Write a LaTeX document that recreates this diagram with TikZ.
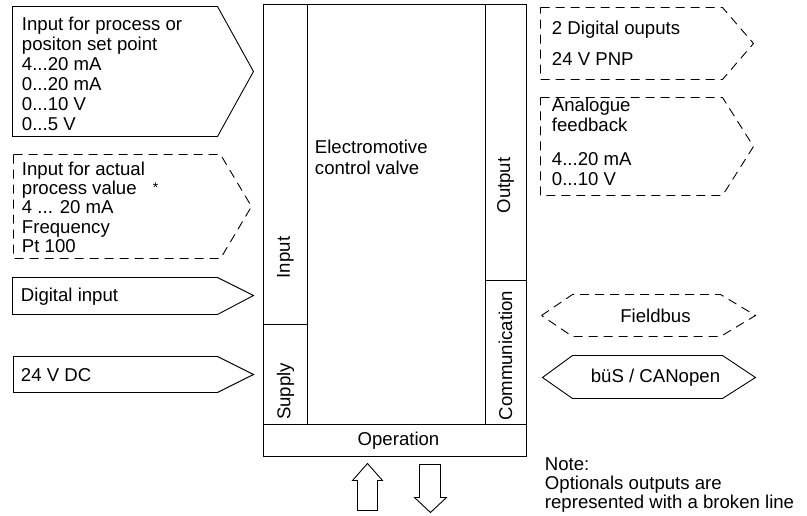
\documentclass[tikz,border=0pt]{standalone}
\usepackage{fontspec}
\setmainfont{Liberation Sans}
\begin{document}
\begin{tikzpicture}[x=1pt,y=-1pt, line width=0.9pt, line join=miter,
  txt/.style={font=\fontsize{18.6}{20}\selectfont, inner sep=0pt, align=left, anchor=base west},
  ctxt/.style={font=\fontsize{18.6}{20}\selectfont, inner sep=0pt},
  shp/.style={draw},
  opt/.style={draw, dash pattern=on 9pt off 6pt},
]
\useasboundingbox (0,0) rectangle (807,516);
\begin{scope}[shift={(0.5,0.5)}]
% left inputs
\draw[shp] (12,6) -- (217,6) -- (253,71) -- (217,136) -- (12,136) -- cycle;
\node[txt] (in1) at (21,130) {Input for process or\\positon set point\\4...20 mA\\0...20 mA\\0...10 V\\0...5 V};
\draw[opt] (13,154) -- (220,154) -- (251,206) -- (220,258) -- (13,258) -- cycle;
\node[txt, font=\fontsize{18.6}{19.3}\selectfont] (in2) at (21,252) {Input for actual\\process value\\4 ... 20 mA\\Frequency\\Pt 100};
\node[ctxt, font=\fontsize{14}{14}\selectfont] (ast) at (155,187) {*};
\draw[shp] (12,277) -- (217,277) -- (253,295) -- (217,314) -- (12,314) -- cycle;
\node[txt] (in3) at (20,301) {Digital input};
\draw[shp] (13,356) -- (217,356) -- (253,374) -- (217,392) -- (13,392) -- cycle;
\node[txt] (in4) at (20,381) {24 V DC};

% main block
\draw (263,4) rectangle (526,456);
\draw (307,4) -- (307,424);
\draw (485,4) -- (485,424);
\draw (263,424) -- (526,424);
\draw (263,324) -- (307,324);
\draw (485,280) -- (526,280);
\node[txt, font=\fontsize{18.6}{21}\selectfont] (valve) at (314,174) {Electromotive\\control valve};
\node[ctxt, rotate=90] (inlbl) at (285,257) {Input};
\node[ctxt, rotate=90] (outlbl) at (505,185) {Output};
\node[ctxt, rotate=90] (suplbl) at (285,391) {Supply};
\node[ctxt, rotate=90] (comlbl) at (505,355) {Communication};
\node[ctxt] (oplbl) at (398,440) {Operation};

% right outputs
\draw[opt] (540,7) -- (722,7) -- (753,43) -- (722,79) -- (540,79) -- cycle;
\node[txt] (out1) at (551,65) {2 Digital ouputs\\[11pt]24 V PNP};
\draw[opt] (540,97) -- (722,97) -- (753,146) -- (722,195) -- (540,195) -- cycle;
\node[txt] (out2) at (551,185) {Analogue\\feedback\\[14pt]4...20 mA\\0...10 V};
\draw[opt] (541,315) -- (572,294) -- (720,294) -- (755,315) -- (720,336) -- (572,336) -- cycle;
\node[ctxt] (fb) at (655,315) {Fieldbus};
\draw[shp] (542,377) -- (572,355) -- (722,355) -- (755,377) -- (722,398) -- (572,398) -- cycle;
\node[ctxt] (bus) at (655,377) {büS / CANopen};

% operation arrows
\draw (357,510) -- (357,480) -- (352,480) -- (367,463) -- (382,480) -- (377,480) -- (377,510) -- cycle;
\draw (419,464) -- (440,464) -- (440,497) -- (446,497) -- (430,512) -- (414,497) -- (419,497) -- cycle;

% note
\node[txt, font=\fontsize{18.6}{19}\selectfont] (note) at (544,508) {Note:\\Optionals outputs are\\represented with a broken line};
\end{scope}
\end{tikzpicture}
\end{document}
